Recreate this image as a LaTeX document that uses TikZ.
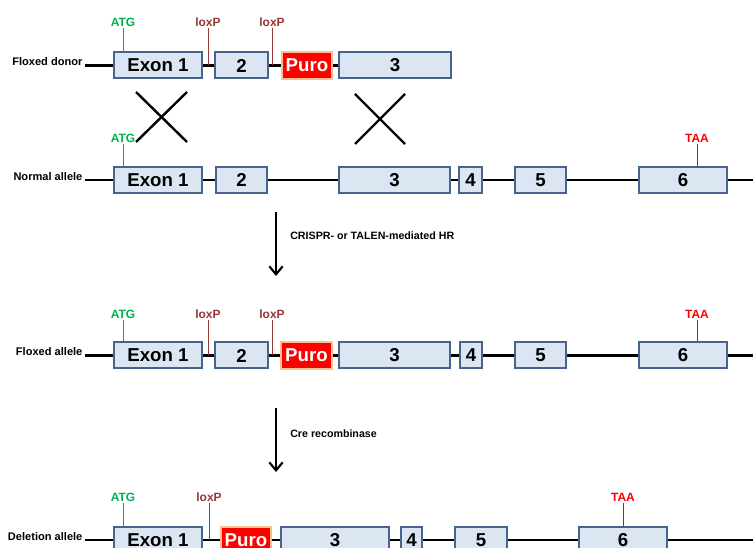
\documentclass[tikz,border=0pt]{standalone}
\usepackage{fontspec}
\setmainfont{Liberation Sans}
\usetikzlibrary{arrows.meta}
\definecolor{exfill}{HTML}{DCE6F2}
\definecolor{exdraw}{HTML}{46648C}
\definecolor{purofill}{HTML}{FF0000}
\definecolor{purodraw}{HTML}{FAC090}
\definecolor{atgc}{HTML}{00B050}
\definecolor{loxc}{HTML}{953735}
\definecolor{taac}{HTML}{FF0000}
\tikzset{
  exon/.style={draw=exdraw, fill=exfill, line width=1.5pt, minimum height={26*0.75pt}, inner sep=0pt, font=\fontsize{14}{14}\selectfont\bfseries},
  puro/.style={draw=purodraw, fill=purofill, line width=1.5pt, minimum height={27*0.75pt}, inner sep=0pt, text=white, font=\fontsize{14}{14}\selectfont\bfseries},
  backbone/.style={line width=1.6pt, black},
  rowlabel/.style={anchor=base east, inner sep=1pt, font=\fontsize{8.3}{8.5}\selectfont\bfseries},
  steplabel/.style={anchor=west, inner sep=0pt, font=\fontsize{8}{8}\selectfont\bfseries},
  marktick/.style={line width=0.6pt},
  marktext/.style={anchor=south, inner sep=1pt, font=\fontsize{9}{9}\selectfont\bfseries},
  crossline/.style={line width=1.8pt, black},
  bigarrow/.style={line width=1.5pt, -{Straight Barb[length=6pt,width=10pt,line width=1.6pt]}}
}
\newcommand{\gbox}[6]{\node[#1, minimum width={(#4-#3)*0.75pt}] (#2) at ({(#3+#4)/2},#5) {#6};}
\begin{document}
\begin{tikzpicture}[x=0.75pt,y=-0.75pt]
\useasboundingbox (0,0) rectangle (753,548);
\clip (0,0) rectangle (753,548);

% ---------- Row 1: Floxed donor ----------
\node[rowlabel] (l1) at (84,65.5) {Floxed donor};
\coordinate (r1s) at (85,65.5);
\coordinate (r1e) at (450,65.5);
\draw[backbone] (r1s) -- (r1e);
\gbox{exon}{a1}{114}{202}{65.5}{Exon 1}
\gbox{exon}{a2}{215}{268}{65.5}{2}
\gbox{puro}{ap}{282}{332}{65.5}{Puro}
\gbox{exon}{a3}{339}{451}{65.5}{3}
\coordinate (t1a) at (123,28);
\coordinate (t1b) at (208,28);
\coordinate (t1c) at (272,28);
\draw[marktick, atgc] (t1a) -- (t1a |- a1.north);
\draw[marktick, loxc] (t1b) -- (t1b |- r1s);
\draw[marktick, loxc] (t1c) -- (t1c |- r1s);
\node[marktext, text=atgc] (m1a) at (t1a) {ATG};
\node[marktext, text=loxc] (m1b) at (t1b) {loxP};
\node[marktext, text=loxc] (m1c) at (t1c) {loxP};

% ---------- crossovers ----------
\coordinate (xa1) at (136,92); \coordinate (xa2) at (187,142);
\coordinate (xa3) at (187,92); \coordinate (xa4) at (136,142);
\draw[crossline] (xa1) -- (xa2);
\draw[crossline] (xa3) -- (xa4);
\coordinate (xb1) at (355,94); \coordinate (xb2) at (405,144);
\coordinate (xb3) at (405,94); \coordinate (xb4) at (355,144);
\draw[crossline] (xb1) -- (xb2);
\draw[crossline] (xb3) -- (xb4);

% ---------- Row 2: Normal allele ----------
\node[rowlabel] (l2) at (84,180.5) {Normal allele};
\coordinate (r2s) at (85,180);
\coordinate (r2e) at (753,180);
\draw[backbone] (r2s) -- (r2e);
\gbox{exon}{b1}{114}{202}{180}{Exon 1}
\gbox{exon}{b2}{216}{267}{180}{2}
\gbox{exon}{b3}{339}{450}{180}{3}
\gbox{exon}{b4}{459}{482}{180}{4}
\gbox{exon}{b5}{515}{566}{180}{5}
\gbox{exon}{b6}{639}{727}{180}{6}
\coordinate (t2a) at (123,144);
\coordinate (t2f) at (697,144);
\draw[marktick, atgc] (t2a) -- (t2a |- b1.north);
\draw[marktick, taac] (t2f) -- (t2f |- b6.north);
\node[marktext, text=atgc] (m2a) at (t2a) {ATG};
\node[marktext, text=taac] (m2f) at (t2f) {TAA};

% ---------- Arrow 1 ----------
\coordinate (ar1s) at (276,212);
\coordinate (ar1e) at (276,276);
\draw[bigarrow] (ar1s) -- (ar1e);
\node[steplabel] (s1) at (290,236) {CRISPR- or TALEN-mediated HR};

% ---------- Row 3: Floxed allele ----------
\node[rowlabel] (l3) at (84,356) {Floxed allele};
\coordinate (r3s) at (85,355.5);
\coordinate (r3e) at (753,355.5);
\draw[backbone] (r3s) -- (r3e);
\gbox{exon}{c1}{114}{202}{355.5}{Exon 1}
\gbox{exon}{c2}{215}{268}{355.5}{2}
\gbox{puro}{cp}{281}{332}{355.5}{Puro}
\gbox{exon}{c3}{339}{450}{355.5}{3}
\gbox{exon}{c4}{460}{482}{355.5}{4}
\gbox{exon}{c5}{515}{566}{355.5}{5}
\gbox{exon}{c6}{639}{727}{355.5}{6}
\coordinate (t3a) at (123,320);
\coordinate (t3b) at (208,320);
\coordinate (t3c) at (272,320);
\coordinate (t3f) at (697,320);
\draw[marktick, atgc] (t3a) -- (t3a |- c1.north);
\draw[marktick, loxc] (t3b) -- (t3b |- r3s);
\draw[marktick, loxc] (t3c) -- (t3c |- r3s);
\draw[marktick, taac] (t3f) -- (t3f |- c6.north);
\node[marktext, text=atgc] (m3a) at (t3a) {ATG};
\node[marktext, text=loxc] (m3b) at (t3b) {loxP};
\node[marktext, text=loxc] (m3c) at (t3c) {loxP};
\node[marktext, text=taac] (m3f) at (t3f) {TAA};

% ---------- Arrow 2 ----------
\coordinate (ar2s) at (276,408);
\coordinate (ar2e) at (276,472);
\draw[bigarrow] (ar2s) -- (ar2e);
\node[steplabel] (s2) at (290,434) {Cre recombinase};

% ---------- Row 4: Deletion allele ----------
\node[rowlabel] (l4) at (84,541) {Deletion allele};
\coordinate (r4s) at (85,540);
\coordinate (r4e) at (753,540);
\draw[backbone] (r4s) -- (r4e);
\gbox{exon}{d1}{114}{202}{540}{Exon 1}
\gbox{puro}{dp}{221}{271}{540}{Puro}
\gbox{exon}{d3}{281}{389}{540}{3}
\gbox{exon}{d4}{401}{422}{540}{4}
\gbox{exon}{d5}{455}{507}{540}{5}
\gbox{exon}{d6}{579}{667}{540}{6}
\coordinate (t4a) at (123,503);
\coordinate (t4b) at (209,503);
\coordinate (t4f) at (623,503);
\draw[marktick, atgc] (t4a) -- (t4a |- d1.north);
\draw[marktick, loxc] (t4b) -- (t4b |- r4s);
\draw[marktick, taac] (t4f) -- (t4f |- d6.north);
\node[marktext, text=atgc] (m4a) at (t4a) {ATG};
\node[marktext, text=loxc] (m4b) at (t4b) {loxP};
\node[marktext, text=taac] (m4f) at (t4f) {TAA};
\end{tikzpicture}
\end{document}
